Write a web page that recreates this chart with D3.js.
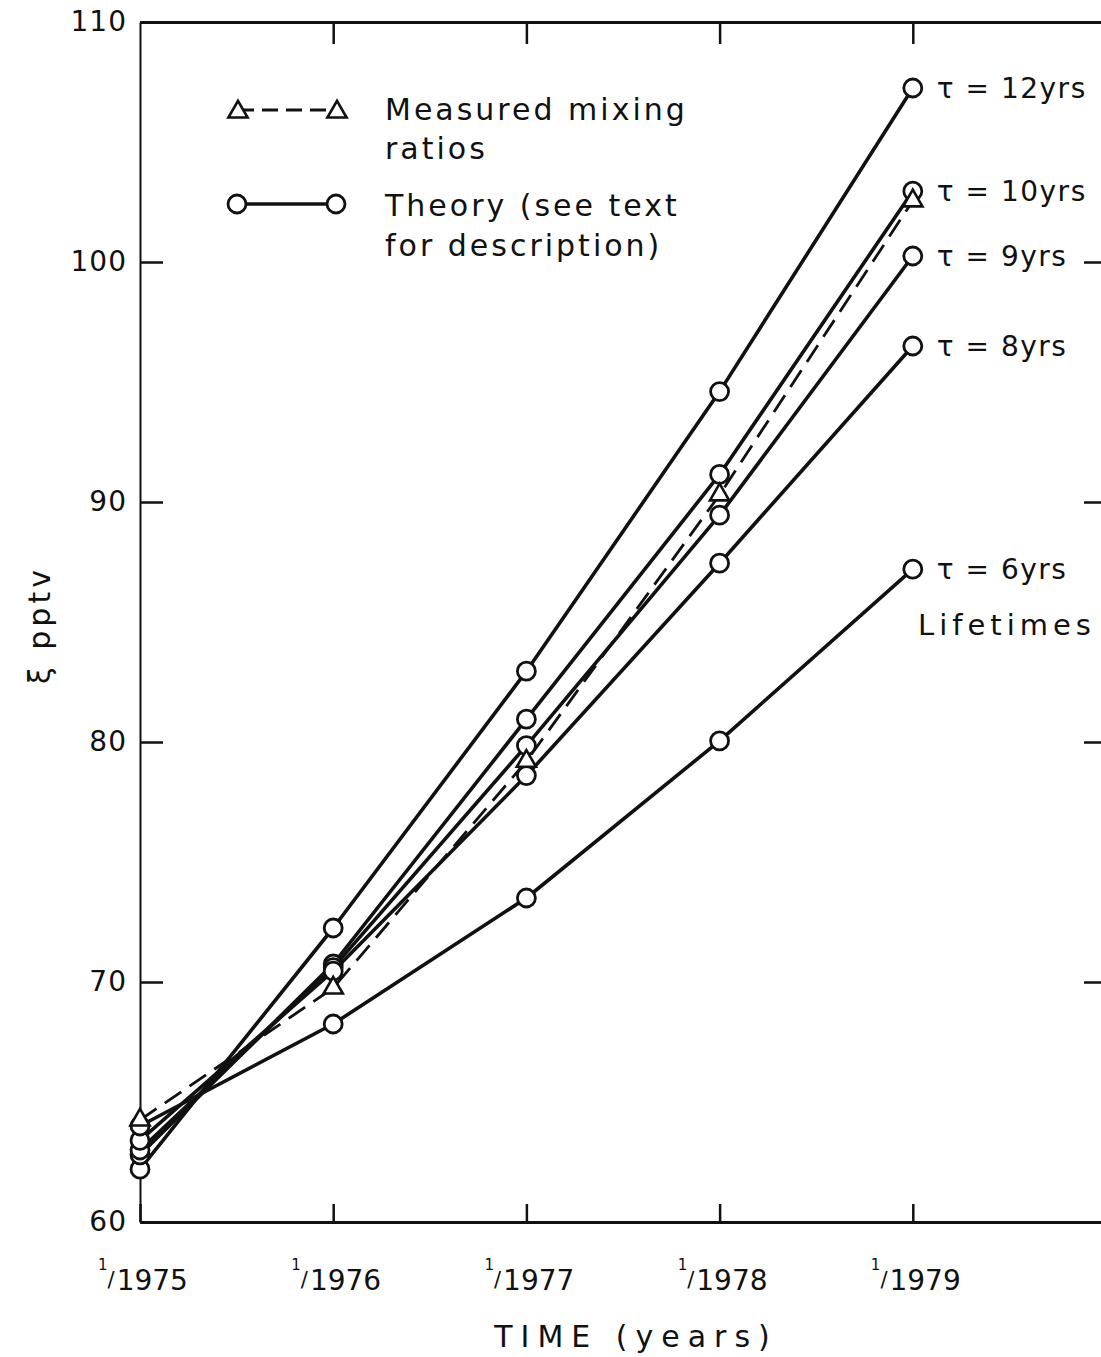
<!DOCTYPE html>
<html>
<head>
<meta charset="utf-8">
<script src="https://cdn.jsdelivr.net/npm/d3@7"></script>
<style>
  html, body { margin: 0; padding: 0; background: #fff; }
  svg { display: block; }
  text { font-family: "DejaVu Sans", sans-serif; fill: #111; }
</style>
</head>
<body>
<svg id="chart" width="1101" height="1357"></svg>
<script>
// Observation dates (1 January of each year)
const years = [1975, 1976, 1977, 1978, 1979];

// Measured mixing ratios, pptv
const measured = [64.25, 69.75, 79.2, 90.3, 102.55];

// Theoretical mixing ratios for several lifetimes (years), pptv
const lifetimes = [12, 10, 9, 8, 6];
const theory12 = [62.2, 72.25, 82.95, 94.6, 107.25];
const theory10 = [62.8, 70.75, 80.95, 91.15, 102.95];
const theory9  = [63.0, 70.6, 79.85, 89.45, 100.25];
const theory8  = [63.4, 70.45, 78.6, 87.45, 96.5];
const theory6  = [64.0, 68.25, 73.5, 80.05, 87.2];

const yTicks = [60, 70, 80, 90, 100, 110];
const xTicks = [1975, 1976, 1977, 1978, 1979];

const theory = [
  { tau: lifetimes[0], values: theory12 },
  { tau: lifetimes[1], values: theory10 },
  { tau: lifetimes[2], values: theory9 },
  { tau: lifetimes[3], values: theory8 },
  { tau: lifetimes[4], values: theory6 }
];

const svg = d3.select("#chart");
const ink = "#111";

const x = d3.scaleLinear().domain([1975, 1980]).range([140, 1106]);
const y = d3.scaleLinear().domain([60, 110]).range([1222, 22]);

// ---- frame and axes ----
const axisL = svg.append("g")
  .attr("transform", `translate(${x(1975)},0)`)
  .call(d3.axisLeft(y).tickValues(yTicks).tickSizeInner(-23).tickSizeOuter(0).tickPadding(13));
axisL.select(".domain").attr("stroke", ink).attr("stroke-width", 2);
axisL.selectAll(".tick line").attr("stroke", ink).attr("stroke-width", 2.5);
axisL.selectAll(".tick text")
  .attr("font-size", 28).attr("letter-spacing", 1)
  .attr("font-family", "DejaVu Sans").attr("fill", ink);

const axisB = svg.append("g")
  .attr("transform", `translate(0,${y(60)})`)
  .call(d3.axisBottom(x).tickValues(xTicks).tickSizeInner(-18).tickSizeOuter(0).tickFormat(""));
axisB.select(".domain").attr("stroke", ink).attr("stroke-width", 3);
axisB.selectAll(".tick line").attr("stroke", ink).attr("stroke-width", 2.5);

const axisT = svg.append("g")
  .attr("transform", `translate(0,${y(110)})`)
  .call(d3.axisTop(x).tickValues(xTicks.slice(1)).tickSizeInner(-22).tickSizeOuter(0).tickFormat(""));
axisT.select(".domain").attr("stroke", ink).attr("stroke-width", 3);
axisT.selectAll(".tick line").attr("stroke", ink).attr("stroke-width", 2.5);

const axisR = svg.append("g")
  .attr("transform", `translate(${x(1980)},0)`)
  .call(d3.axisRight(y).tickValues(yTicks.slice(1, 5)).tickSizeInner(-22).tickSizeOuter(0).tickFormat(""));
axisR.select(".domain").attr("stroke", ink).attr("stroke-width", 3);
axisR.selectAll(".tick line").attr("stroke", ink).attr("stroke-width", 2.5);

// date labels written as "1/yyyy" with a raised day numeral
const dateLabels = svg.append("g");
xTicks.forEach(yr => {
  const t = dateLabels.append("text")
    .attr("x", x(yr) + 3)
    .attr("y", 1290)
    .attr("text-anchor", "middle");
  t.append("tspan").attr("font-size", 15).attr("dy", -20).text("1");
  t.append("tspan").attr("font-size", 21).attr("dy", 17).text("/");
  t.append("tspan").attr("font-size", 28).attr("dy", 3).attr("dx", 2).text(String(yr));
});

// axis titles
svg.append("text")
  .attr("x", 636).attr("y", 1347)
  .attr("text-anchor", "middle")
  .attr("font-size", 30).attr("letter-spacing", 8)
  .text("TIME (years)");

svg.append("text")
  .attr("transform", "translate(50,625) rotate(-90)")
  .attr("text-anchor", "middle")
  .attr("font-size", 30).attr("letter-spacing", 4)
  .text("ξ  pptv");

// ---- series ----
const line = d3.line().x((d, i) => x(years[i])).y(d => y(d));

svg.append("g").selectAll("path")
  .data(theory)
  .join("path")
  .attr("d", d => line(d.values))
  .attr("fill", "none")
  .attr("stroke", ink)
  .attr("stroke-width", 3.6)
  .attr("stroke-linejoin", "round");

svg.append("path")
  .attr("d", line(measured))
  .attr("fill", "none")
  .attr("stroke", ink)
  .attr("stroke-width", 2.8)
  .attr("stroke-dasharray", "20,10");

const tri = d3.symbol(d3.symbolTriangle, 160);

svg.append("g").selectAll("g")
  .data(theory)
  .join("g")
  .selectAll("circle")
  .data(d => d.values)
  .join("circle")
  .attr("cx", (d, i) => x(years[i]))
  .attr("cy", d => y(d))
  .attr("r", 9)
  .attr("fill", "#fff")
  .attr("stroke", ink)
  .attr("stroke-width", 2.8);

svg.append("g").selectAll("path")
  .data(measured)
  .join("path")
  .attr("d", tri)
  .attr("transform", (d, i) => `translate(${x(years[i])},${y(d)})`)
  .attr("fill", "#fff")
  .attr("stroke", ink)
  .attr("stroke-width", 2.6);

// lifetime labels at the end of each theory curve
svg.append("g").selectAll("text")
  .data(theory)
  .join("text")
  .attr("x", x(1979) + 24)
  .attr("y", d => y(d.values[4]))
  .attr("dy", "0.36em")
  .attr("font-size", 28)
  .attr("letter-spacing", 1.5)
  .text(d => `τ = ${d.tau}yrs`);

svg.append("text")
  .attr("x", 918).attr("y", 635)
  .attr("font-size", 29).attr("letter-spacing", 5)
  .text("Lifetimes");

// ---- legend ----
const legend = svg.append("g");
legend.append("line")
  .attr("x1", 238).attr("x2", 337).attr("y1", 110).attr("y2", 110)
  .attr("stroke", ink).attr("stroke-width", 2.8).attr("stroke-dasharray", "16,8");
[238, 337].forEach(cx => {
  legend.append("path").attr("d", tri)
    .attr("transform", `translate(${cx},112)`)
    .attr("fill", "#fff").attr("stroke", ink).attr("stroke-width", 2.6);
});
legend.append("line")
  .attr("x1", 237).attr("x2", 336).attr("y1", 204).attr("y2", 204)
  .attr("stroke", ink).attr("stroke-width", 3.4);
[237, 336].forEach(cx => {
  legend.append("circle").attr("cx", cx).attr("cy", 204).attr("r", 9)
    .attr("fill", "#fff").attr("stroke", ink).attr("stroke-width", 2.8);
});

const legendLines = [
  ["Measured mixing", 120],
  ["ratios", 159],
  ["Theory (see text", 216],
  ["for description)", 256]
];
legend.selectAll("text.lg")
  .data(legendLines)
  .join("text")
  .attr("class", "lg")
  .attr("x", 385)
  .attr("y", d => d[1])
  .attr("font-size", 30)
  .attr("letter-spacing", 3)
  .text(d => d[0]);
</script>
</body>
</html>
